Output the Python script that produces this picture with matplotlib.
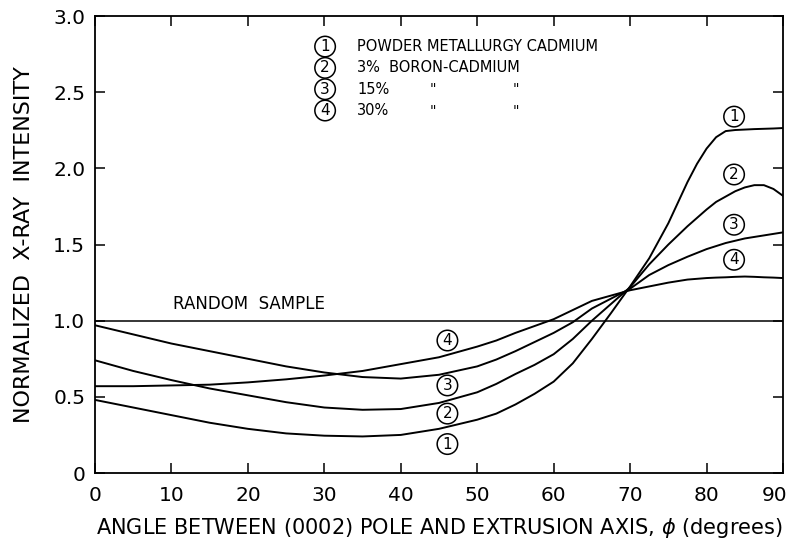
import numpy as np
import matplotlib.pyplot as plt
import matplotlib.transforms as mtransforms

# angle phi (degrees), shared by all four curves
angle = [0, 5, 10, 15, 20, 25, 30, 35, 40, 45, 50, 52.5, 55, 57.5, 60, 62.5,
         65, 67.5, 70, 72.5, 75, 77.5, 78.75, 80, 81.25, 82.5, 83.75, 85, 86.25, 87.5, 88.75, 90]

# 1: powder metallurgy cadmium
powder = [0.48, 0.43, 0.38, 0.33, 0.29, 0.26, 0.245, 0.24, 0.25, 0.29, 0.35, 0.39, 0.45, 0.52,
          0.60, 0.72, 0.88, 1.05, 1.225, 1.41, 1.64, 1.91, 2.03, 2.13, 2.205, 2.245,
          2.252, 2.255, 2.258, 2.26, 2.262, 2.265]
# 2: 3% boron-cadmium
boron3 = [0.74, 0.67, 0.61, 0.555, 0.51, 0.465, 0.43, 0.415, 0.42, 0.46, 0.53, 0.585, 0.65, 0.71,
          0.78, 0.88, 1.00, 1.11, 1.22, 1.37, 1.50, 1.62, 1.675, 1.73, 1.78, 1.815,
          1.85, 1.875, 1.89, 1.89, 1.865, 1.82]
# 3: 15%
boron15 = [0.97, 0.91, 0.85, 0.80, 0.75, 0.70, 0.66, 0.63, 0.62, 0.645, 0.70, 0.745, 0.80, 0.86,
           0.92, 0.99, 1.08, 1.145, 1.21, 1.30, 1.365, 1.42, 1.445, 1.47, 1.49, 1.51,
           1.525, 1.54, 1.55, 1.56, 1.57, 1.58]
# 4: 30%
boron30 = [0.57, 0.57, 0.575, 0.58, 0.595, 0.615, 0.64, 0.67, 0.715, 0.76, 0.83, 0.87, 0.92, 0.965,
           1.01, 1.07, 1.13, 1.165, 1.20, 1.225, 1.25, 1.27, 1.275, 1.28, 1.283, 1.285,
           1.288, 1.29, 1.288, 1.285, 1.283, 1.28]

curves = [powder, boron3, boron15, boron30]
# circled labels: (number, x, y)
right_labels = [("1", 83.6, 2.34), ("2", 83.6, 1.96), ("3", 83.6, 1.63), ("4", 83.6, 1.40)]
low_labels = [("4", 46.1, 0.87), ("3", 46.1, 0.575), ("2", 46.1, 0.39), ("1", 46.1, 0.19)]
legend_rows = [("1", "POWDER METALLURGY CADMIUM"), ("2", "3%  BORON-CADMIUM"),
               ("3", "15%"), ("4", "30%")]

plt.rcParams['font.family'] = 'DejaVu Sans'
fig = plt.figure(figsize=(7.93, 5.42), dpi=100)
ax = fig.add_axes([0.1198, 0.1273, 0.8676, 0.843])

for c in curves:
    ax.plot(angle, c, color='black', lw=1.4)
ax.plot([0, 90], [1.0, 1.0], color='black', lw=1.1)
ax.text(10.2, 1.05, "RANDOM  SAMPLE", fontsize=12, va='bottom', ha='left')

circ = dict(boxstyle='circle,pad=0.18', fc='white', ec='black', lw=1.1)
for n, x, y in right_labels + low_labels:
    ax.text(x, y, n, fontsize=11, ha='center', va='center', bbox=circ)

ys = [2.80, 2.66, 2.52, 2.38]
for (n, txt), y in zip(legend_rows, ys):
    ax.text(30.1, y, n, fontsize=11, ha='center', va='center', bbox=circ)
    ax.text(34.3, y, txt, fontsize=10.5, ha='left', va='center')
for y in ys[2:]:
    ax.text(44.2, y, '"', fontsize=10, ha='center', va='center')
    ax.text(55.0, y, '"', fontsize=10, ha='center', va='center')

ax.set_xlim(0, 90)
ax.set_ylim(0, 3.0)
ax.set_xticks(np.arange(0, 91, 10))
ax.set_yticks(np.arange(0, 3.01, 0.5))
ax.set_yticklabels(["0", "0.5", "1.0", "1.5", "2.0", "2.5", "3.0"])
ax.tick_params(direction='in', length=7, width=1.1, top=True, right=True,
               labelsize=14.5)
ax.tick_params(axis='x', pad=9)
ax.tick_params(axis='y', pad=7)
# last x label sits a bit left so it stays inside the figure
lab90 = ax.get_xticklabels()[-1]
lab90.set_transform(lab90.get_transform() +
                    mtransforms.ScaledTranslation(-6 / 72, 0, fig.dpi_scale_trans))
for s in ax.spines.values():
    s.set_linewidth(1.3)

ax.set_xlabel("ANGLE BETWEEN (0002) POLE AND EXTRUSION AXIS, $\\phi$ (degrees)",
              fontsize=15, labelpad=8)
ax.set_ylabel("NORMALIZED  X-RAY  INTENSITY", fontsize=16, labelpad=14)

fig.savefig("out.png", dpi=100)
